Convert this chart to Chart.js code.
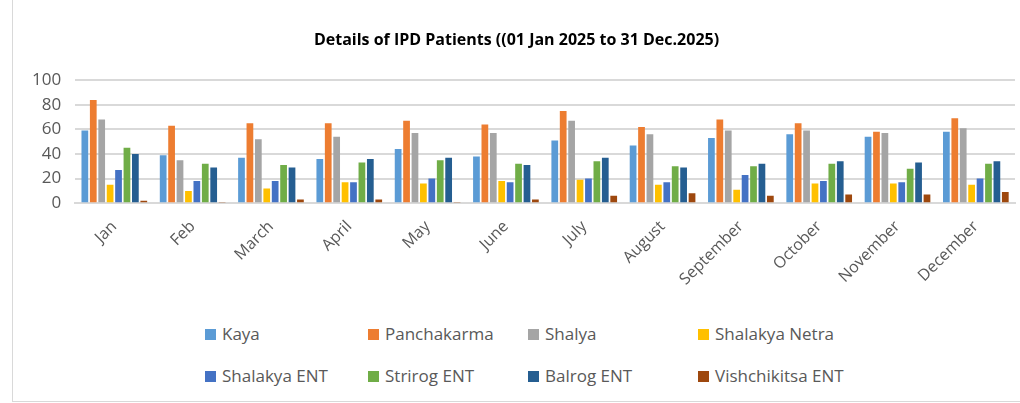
<!DOCTYPE html>
<html>
<head>
<meta charset="utf-8">
<script src="https://cdn.jsdelivr.net/npm/chart.js@4"></script>
<style>
  body { margin: 0; background: #fff; font-family: "Open Sans", sans-serif; }
  #frame { position: absolute; left: 12px; top: -2px; width: 1020px; height: 404px; border: 1px solid #d9d9d9; box-sizing: border-box; }
  #wrap { position: absolute; left: 0; top: 0; width: 1020px; height: 295px; }
  #legend { position: absolute; left: 0; top: 322px; width: 1020px; }
  .item { position: absolute; font-size: 17px; color: #595959; white-space: nowrap; }
  .item span.box { display: inline-block; width: 11px; height: 11px; margin-right: 6px; vertical-align: 0px; }
</style>
</head>
<body>
<div id="frame"></div>
<div id="wrap"><canvas id="ipd"></canvas></div>
<div id="legend"></div>
<script>
const months = ['Jan', 'Feb', 'March', 'April', 'May', 'June', 'July', 'August', 'September', 'October', 'November', 'December'];

const kaya        = [59, 39, 37, 36, 44, 38, 51, 47, 53, 56, 54, 58];
const panchakarma = [84, 63, 65, 65, 67, 64, 75, 62, 68, 65, 58, 69];
const shalya      = [68, 35, 52, 54, 57, 57, 67, 56, 59, 59, 57, 61];
const netra       = [15, 10, 12, 17, 16, 18, 19, 15, 11, 16, 16, 15];
const shalakyaEnt = [27, 18, 18, 17, 20, 17, 20, 17, 23, 18, 17, 20];
const strirog     = [45, 32, 31, 33, 35, 32, 34, 30, 30, 32, 28, 32];
const balrog      = [40, 29, 29, 36, 37, 31, 37, 29, 32, 34, 33, 34];
const vishchikitsa = [2, 1, 3, 3, 1, 3, 6, 8, 6, 7, 7, 9];

const seriesNames = ['Kaya', 'Panchakarma', 'Shalya', 'Shalakya Netra', 'Shalakya ENT', 'Strirog ENT', 'Balrog ENT', 'Vishchikitsa ENT'];
const seriesData = [kaya, panchakarma, shalya, netra, shalakyaEnt, strirog, balrog, vishchikitsa];
const colors = ['#5b9bd5', '#ed7d31', '#a5a5a5', '#ffc000', '#4472c4', '#70ad47', '#255e91', '#9e480e'];

const datasets = seriesNames.map((name, i) => ({
    label: name,
    data: seriesData[i],
    backgroundColor: colors[i],
    categoryPercentage: 0.86,
    barPercentage: 0.8
}));

const ctx = document.getElementById('ipd').getContext('2d');
new Chart(ctx, {
    type: 'bar',
    data: { labels: months, datasets: datasets },
    options: {
        responsive: true,
        maintainAspectRatio: false,
        animation: false,
        layout: { padding: { left: 18, right: 5, top: 10, bottom: 0 } },
        plugins: {
            legend: { display: false },
            tooltip: { enabled: false },
            title: {
                display: true,
                text: 'Details of IPD Patients ((01 Jan 2025 to 31 Dec.2025)',
                color: '#000',
                font: { family: 'Open Sans', size: 16, weight: 'bold' },
                padding: { top: 21, bottom: 30 }
            }
        },
        scales: {
            y: {
                min: 0,
                max: 100,
                ticks: { stepSize: 20, color: '#595959', font: { family: 'Open Sans', size: 17 }, padding: 14 },
                grid: { color: '#d9d9d9', lineWidth: 2, drawTicks: false },
                border: { display: false }
            },
            x: {
                ticks: { color: '#595959', font: { family: 'Open Sans', size: 16 }, minRotation: 45, maxRotation: 45, padding: 6 },
                grid: { display: false },
                border: { color: '#d9d9d9', width: 2 }
            }
        }
    }
});

// legend, four fixed columns like the original
const legend = document.getElementById('legend');
const colX = [205, 368, 528, 698];
seriesNames.forEach((name, i) => {
    const el = document.createElement('div');
    el.className = 'item';
    el.style.left = colX[i % 4] + 'px';
    el.style.top = (Math.floor(i / 4) * 42) + 'px';
    el.innerHTML = `<span class="box" style="background:${colors[i]}"></span>${name}`;
    legend.appendChild(el);
});
</script>
</body>
</html>
